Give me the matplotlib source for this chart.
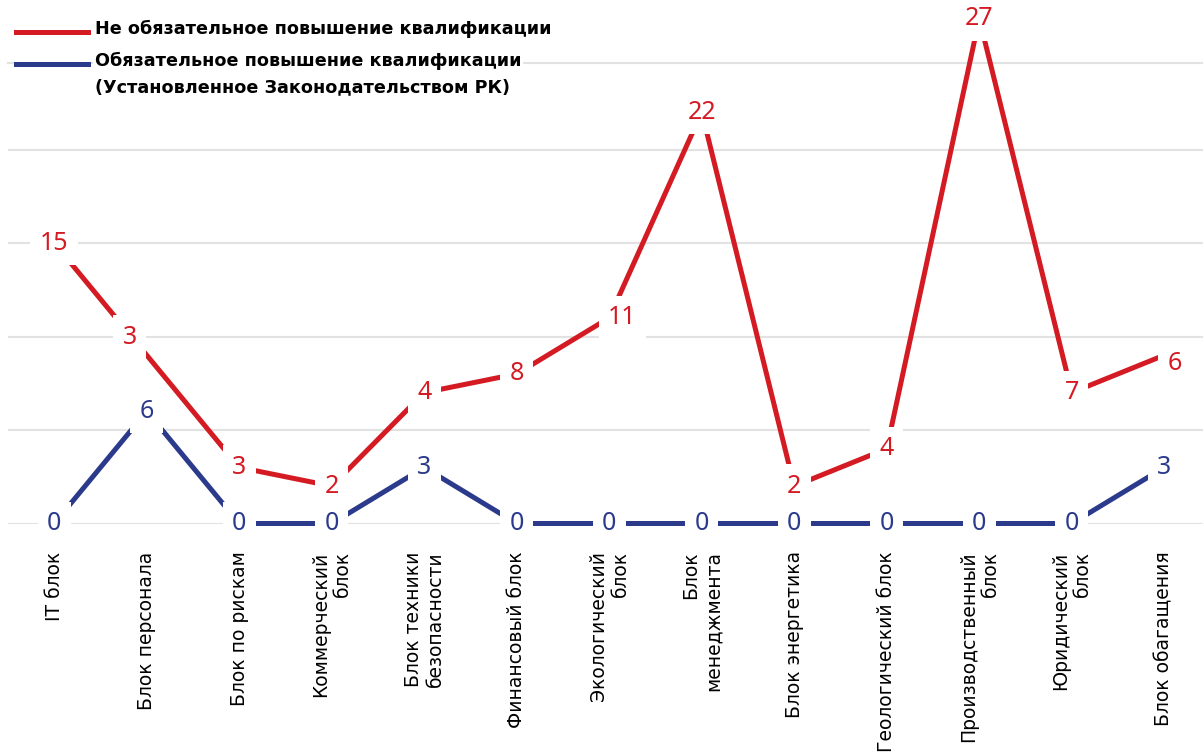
import matplotlib
matplotlib.use('Agg')
import matplotlib.pyplot as plt
from matplotlib.lines import Line2D
import numpy as np

categories = ['IT блок', 'Блок персонала', 'Блок по рискам', 'Коммерческий\nблок',
              'Блок техники\nбезопасности', 'Финансовый блок', 'Экологический\nблок',
              'Блок\nменеджмента', 'Блок энергетика', 'Геологический блок',
              'Производственный\nблок', 'Юридический\nблок', 'Блок обагащения']
optional = [15, 3, 3, 2, 4, 8, 11, 22, 2, 4, 27, 7, 6]    # не обязательное
mandatory = [0, 6, 0, 0, 3, 0, 0, 0, 0, 0, 0, 0, 3]       # обязательное

red = '#d41a22'
blue = '#2b3a8a'
grid_c = '#e2e2e2'

# stacked line chart: red series sits on top of the blue one
x = np.arange(len(categories))
stacked = np.array(mandatory) + np.array(optional)

fig = plt.figure(figsize=(12.03, 7.55), dpi=100)
W, H = 1203, 755
ax = fig.add_axes([8 / W, (H - 523.5) / H, 1202.5 / W, 460 / H])

ax.plot(x, mandatory, color=blue, lw=3.6, clip_on=False, zorder=3, solid_capstyle='butt')
ax.plot(x, stacked, color=red, lw=3.6, clip_on=False, zorder=3, solid_capstyle='butt')

ax.set_xlim(-0.5, len(categories) - 0.5)
ax.set_ylim(0, 24.6)
ax.set_yticks(np.arange(0, 21, 5))
ax.yaxis.grid(True, color=grid_c, lw=1.5)
ax.set_axisbelow(True)
for s in ['left', 'right', 'bottom']:
    ax.spines[s].set_visible(False)
ax.spines['top'].set_color(grid_c)
ax.spines['top'].set_linewidth(1.5)
ax.tick_params(axis='y', left=False, labelleft=False)
ax.tick_params(axis='x', length=0, pad=20)
ax.set_xticks(x)
ax.set_xticklabels(categories, rotation=90, ha='center', va='top',
                   fontsize=13.5, family='DejaVu Sans')
for lbl in ax.get_xticklabels():
    lbl.set_multialignment('right')

box = dict(boxstyle='square,pad=0.38', fc='white', ec='none')
lab_font = dict(fontsize=18, family=['Noto Sans', 'DejaVu Sans'])

# data labels (pixel offsets where the original moved them)
red_offsets = {1: (-17, 18), 6: (13, 0), 12: (10, -8)}
for i in x:
    dx, dy = red_offsets.get(i, (0, 0))
    ax.annotate(str(optional[i]), (i, stacked[i]), xytext=(dx, dy),
                textcoords='offset pixels', ha='center', va='center',
                color=red, bbox=box, zorder=5, annotation_clip=False, **lab_font)
    ax.annotate(str(mandatory[i]), (i, mandatory[i]), xytext=(0, 0),
                textcoords='offset pixels', ha='center', va='center',
                color=blue, bbox=box, zorder=5, annotation_clip=False, **lab_font)

# legend drawn by hand so each text gets its own white backing
leg_font = dict(fontsize=12.7, fontweight='bold', family='DejaVu Sans', color='black')
fig.add_artist(Line2D([16 / W, 88 / W], [1 - 32 / H, 1 - 32 / H], color=red, lw=3.6,
                      transform=fig.transFigure))
fig.add_artist(Line2D([16 / W, 88 / W], [1 - 63.5 / H, 1 - 63.5 / H], color=blue, lw=3.6,
                      transform=fig.transFigure))
tb = dict(boxstyle='square,pad=0.1', fc='white', ec='none')
fig.text(95 / W, 1 - 29 / H, 'Не обязательное повышение квалификации',
         va='center', ha='left', bbox=tb, **leg_font)
fig.text(95 / W, 1 - 61 / H, 'Обязательное повышение квалификации',
         va='center', ha='left', bbox=tb, **leg_font)
fig.text(95 / W, 1 - 87 / H, '(Установленное Законодательством РК)',
         va='center', ha='left', bbox=tb, **leg_font)

fig.savefig('out.png', dpi=100, facecolor='white')
